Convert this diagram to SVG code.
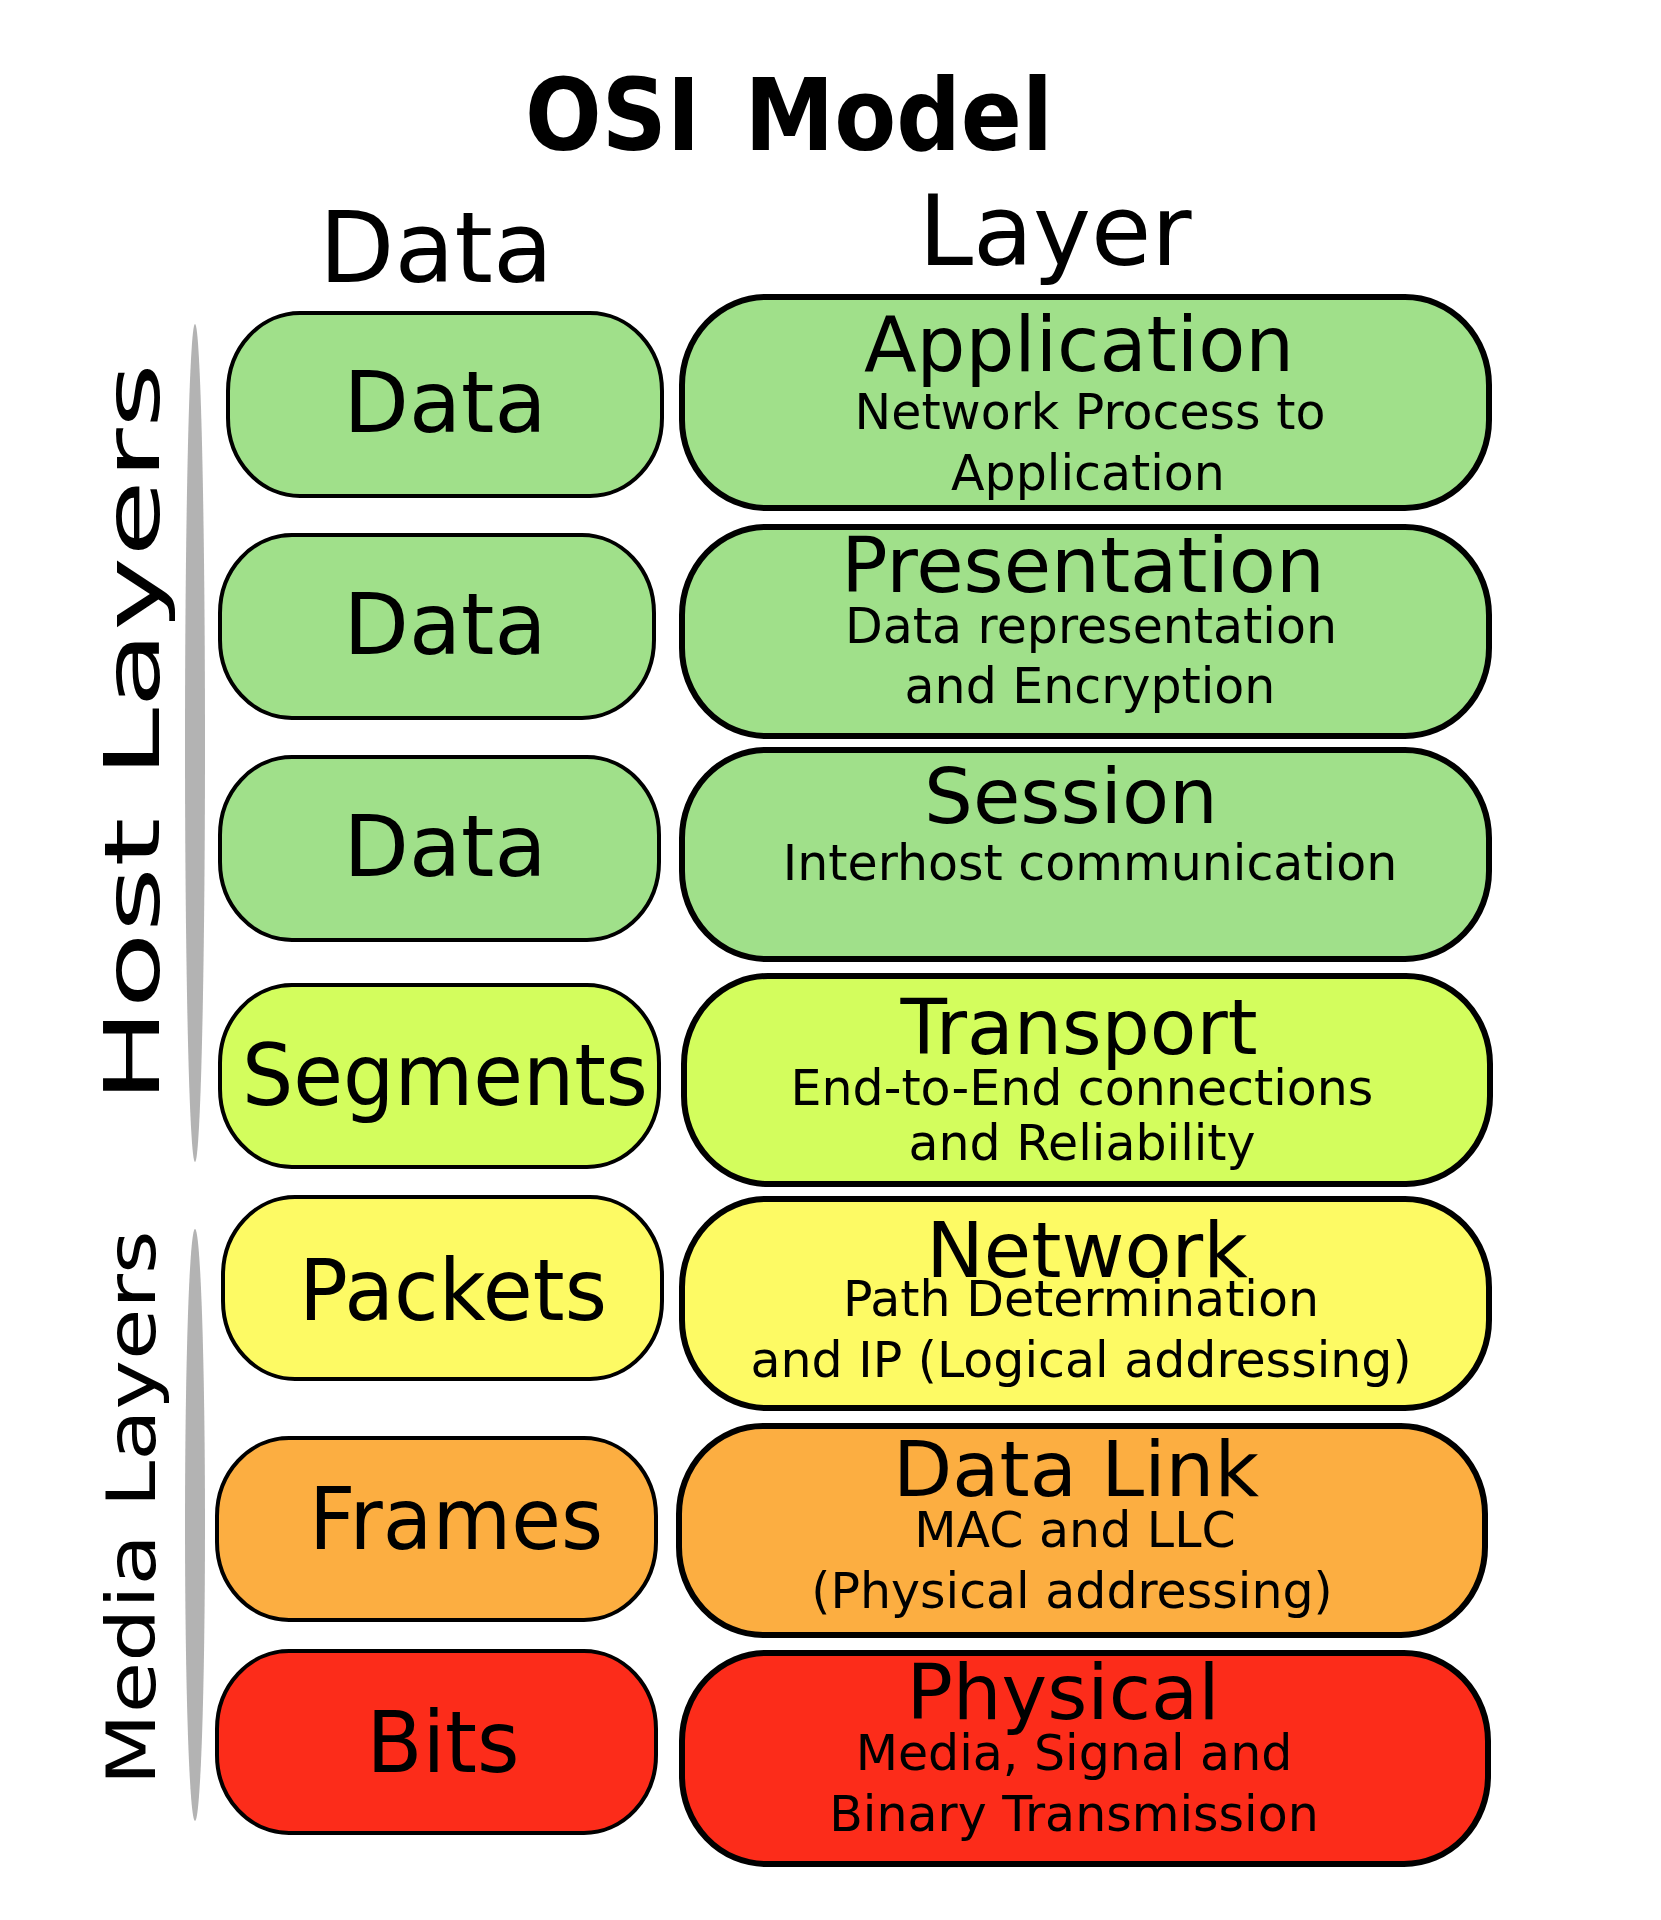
<svg xmlns="http://www.w3.org/2000/svg" width="1661" height="1920" viewBox="0 0 1661 1920">
<style>
text{font-family:"DejaVu Sans","Liberation Sans",sans-serif;fill:#000;text-anchor:middle}
.title{font-size:100px;font-weight:bold;word-spacing:14px}
.head{font-size:98px}
.lbl{font-size:85px}
.lt{font-size:77px}
.ls{font-size:49px}
.bx{stroke:#000;stroke-width:4}
.rb{stroke:#000;stroke-width:6}
.g{fill:#a0e08a}
.l{fill:#d3fd5d}
.y{fill:#fdfa64}
.o{fill:#fcae41}
.r{fill:#fc2c1a}
.bar{fill:#b3b3b3}
</style>
<rect width="1661" height="1920" fill="#fff"/>
<text class="title" x="789" y="150" textLength="528" lengthAdjust="spacingAndGlyphs">OSI Model</text>
<text class="head" x="436" y="282">Data</text>
<text class="head" x="1055" y="265">Layer</text>

<g id="side-labels">
<ellipse class="bar" cx="195" cy="743" rx="10" ry="419"/>
<ellipse class="bar" cx="195" cy="1525" rx="10" ry="296"/>
<text transform="translate(159,733) rotate(-90) scale(1.65,1)" font-size="76">Host Layers</text>
<text transform="translate(155,1508) rotate(-90) scale(1.25,1)" font-size="67">Media Layers</text>
</g>

<g id="connectors"/>

<g id="data-application">
<rect class="bx g" x="228" y="313" width="434" height="183" rx="72" ry="78"/>
<text class="lbl" x="445" y="432">Data</text>
</g>
<g id="data-presentation">
<rect class="bx g" x="220" y="535" width="434" height="183" rx="72" ry="78"/>
<text class="lbl" x="445" y="654">Data</text>
</g>
<g id="data-session">
<rect class="bx g" x="220" y="757" width="439" height="183" rx="72" ry="78"/>
<text class="lbl" x="445" y="876">Data</text>
</g>
<g id="segments">
<rect class="bx l" x="220" y="985" width="439" height="182" rx="72" ry="78"/>
<text class="lbl" x="445" y="1105" textLength="406" lengthAdjust="spacingAndGlyphs">Segments</text>
</g>
<g id="packets">
<rect class="bx y" x="223" y="1197" width="439" height="182" rx="72" ry="78"/>
<text class="lbl" x="453" y="1320" textLength="308" lengthAdjust="spacingAndGlyphs">Packets</text>
</g>
<g id="frames">
<rect class="bx o" x="217" y="1438" width="439" height="182" rx="72" ry="78"/>
<text class="lbl" x="456" y="1549" textLength="294" lengthAdjust="spacingAndGlyphs">Frames</text>
</g>
<g id="bits">
<rect class="bx r" x="217" y="1651" width="439" height="182" rx="72" ry="78"/>
<text class="lbl" x="443" y="1772" textLength="153" lengthAdjust="spacingAndGlyphs">Bits</text>
</g>

<g id="layer-application">
<rect class="rb g" x="682" y="297" width="807" height="211" rx="84" ry="88"/>
<text class="lt" x="1079" y="371">Application</text>
<text class="ls" x="1090" y="429">Network Process to</text>
<text class="ls" x="1088" y="490">Application</text>
</g>
<g id="layer-presentation">
<rect class="rb g" x="682" y="527" width="807" height="209" rx="84" ry="88"/>
<text class="lt" x="1083" y="592">Presentation</text>
<text class="ls" x="1091" y="643">Data representation</text>
<text class="ls" x="1090" y="703">and Encryption</text>
</g>
<g id="layer-session">
<rect class="rb g" x="682" y="750" width="807" height="209" rx="84" ry="88"/>
<text class="lt" x="1071" y="823">Session</text>
<text class="ls" x="1090" y="880">Interhost communication</text>
</g>
<g id="layer-transport">
<rect class="rb l" x="684" y="976" width="806" height="208" rx="84" ry="88"/>
<text class="lt" x="1079" y="1054" textLength="357" lengthAdjust="spacingAndGlyphs">Transport</text>
<text class="ls" x="1082" y="1105">End-to-End connections</text>
<text class="ls" x="1082" y="1160">and Reliability</text>
</g>
<g id="layer-network">
<rect class="rb y" x="682" y="1199" width="807" height="209" rx="84" ry="88"/>
<text class="lt" x="1087" y="1277">Network</text>
<text class="ls" x="1081" y="1316">Path Determination</text>
<text class="ls" x="1081" y="1377">and IP (Logical addressing)</text>
</g>
<g id="layer-datalink">
<rect class="rb o" x="679" y="1426" width="806" height="209" rx="84" ry="88"/>
<text class="lt" x="1076" y="1496">Data Link</text>
<text class="ls" x="1075" y="1547">MAC and LLC</text>
<text class="ls" x="1072" y="1608">(Physical addressing)</text>
</g>
<g id="layer-physical">
<rect class="rb r" x="682" y="1653" width="806" height="211" rx="84" ry="88"/>
<text class="lt" x="1063" y="1719">Physical</text>
<text class="ls" x="1074" y="1770">Media, Signal and</text>
<text class="ls" x="1074" y="1831">Binary Transmission</text>
</g>
</svg>
